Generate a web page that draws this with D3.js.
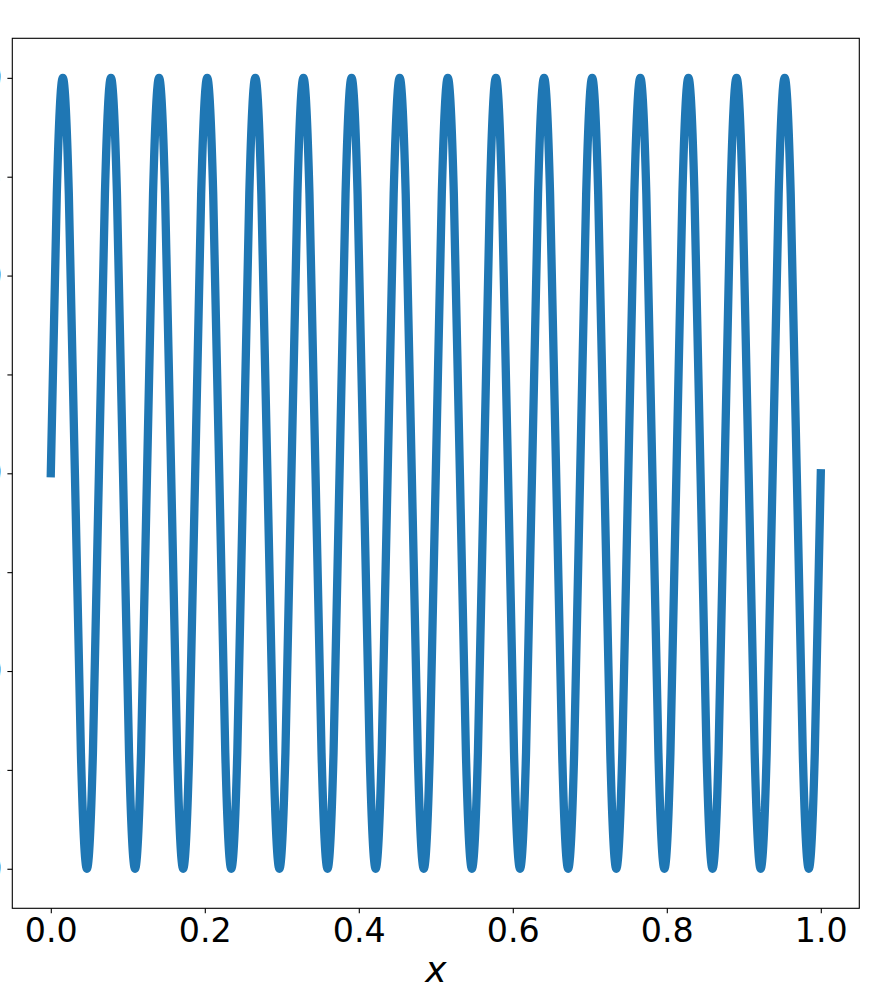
<!DOCTYPE html>
<html>
<head>
<meta charset="utf-8">
<script src="https://cdn.jsdelivr.net/npm/d3@7"></script>
<style>
  html, body { margin: 0; padding: 0; background: #fff; }
  svg { display: block; }
  text { font-family: "DejaVu Sans", sans-serif; }
</style>
</head>
<body>
<svg id="chart" width="887" height="988"></svg>
<script>
// x positions of samples (16 full cycles over [0, 1], eighth-period samples)
const xValues = [
  0.0000, 0.0078, 0.0156, 0.0234, 0.0313, 0.0391, 0.0469, 0.0547,
  0.0625, 0.0703, 0.0781, 0.0859, 0.0938, 0.1016, 0.1094, 0.1172,
  0.1250, 0.1328, 0.1406, 0.1484, 0.1563, 0.1641, 0.1719, 0.1797,
  0.1875, 0.1953, 0.2031, 0.2109, 0.2188, 0.2266, 0.2344, 0.2422,
  0.2500, 0.2578, 0.2656, 0.2734, 0.2813, 0.2891, 0.2969, 0.3047,
  0.3125, 0.3203, 0.3281, 0.3359, 0.3438, 0.3516, 0.3594, 0.3672,
  0.3750, 0.3828, 0.3906, 0.3984, 0.4063, 0.4141, 0.4219, 0.4297,
  0.4375, 0.4453, 0.4531, 0.4609, 0.4688, 0.4766, 0.4844, 0.4922,
  0.5000, 0.5078, 0.5156, 0.5234, 0.5313, 0.5391, 0.5469, 0.5547,
  0.5625, 0.5703, 0.5781, 0.5859, 0.5938, 0.6016, 0.6094, 0.6172,
  0.6250, 0.6328, 0.6406, 0.6484, 0.6563, 0.6641, 0.6719, 0.6797,
  0.6875, 0.6953, 0.7031, 0.7109, 0.7188, 0.7266, 0.7344, 0.7422,
  0.7500, 0.7578, 0.7656, 0.7734, 0.7813, 0.7891, 0.7969, 0.8047,
  0.8125, 0.8203, 0.8281, 0.8359, 0.8438, 0.8516, 0.8594, 0.8672,
  0.8750, 0.8828, 0.8906, 0.8984, 0.9063, 0.9141, 0.9219, 0.9297,
  0.9375, 0.9453, 0.9531, 0.9609, 0.9688, 0.9766, 0.9844, 0.9922,
  1.0000
];
const yValues = [
  0, 0.707, 1, 0.707, 0, -0.707, -1, -0.707,
  0, 0.707, 1, 0.707, 0, -0.707, -1, -0.707,
  0, 0.707, 1, 0.707, 0, -0.707, -1, -0.707,
  0, 0.707, 1, 0.707, 0, -0.707, -1, -0.707,
  0, 0.707, 1, 0.707, 0, -0.707, -1, -0.707,
  0, 0.707, 1, 0.707, 0, -0.707, -1, -0.707,
  0, 0.707, 1, 0.707, 0, -0.707, -1, -0.707,
  0, 0.707, 1, 0.707, 0, -0.707, -1, -0.707,
  0, 0.707, 1, 0.707, 0, -0.707, -1, -0.707,
  0, 0.707, 1, 0.707, 0, -0.707, -1, -0.707,
  0, 0.707, 1, 0.707, 0, -0.707, -1, -0.707,
  0, 0.707, 1, 0.707, 0, -0.707, -1, -0.707,
  0, 0.707, 1, 0.707, 0, -0.707, -1, -0.707,
  0, 0.707, 1, 0.707, 0, -0.707, -1, -0.707,
  0, 0.707, 1, 0.707, 0, -0.707, -1, -0.707,
  0, 0.707, 1, 0.707, 0, -0.707, -1, -0.707,
  0
];
const xTicks = [0.0, 0.2, 0.4, 0.6, 0.8, 1.0];
const xTickLabels = ["0.0", "0.2", "0.4", "0.6", "0.8", "1.0"];
const yTicks = [-1.0, -0.75, -0.5, -0.25, 0.0, 0.25, 0.5, 0.75, 1.0];
const yTickLabels = ["\u22121.00", "\u22120.75", "\u22120.50", "\u22120.25", "0.00", "0.25", "0.50", "0.75", "1.00"];
const xLabel = "x";

(function () {
const svg = d3.select("#chart");
const plotLeft = 12.3, plotRight = 859.3, plotTop = 38.3, plotBottom = 908.3;

const x = d3.scaleLinear().domain([-0.05, 1.05]).range([plotLeft, plotRight]);
const y = d3.scaleLinear().domain([-1.1, 1.1]).range([plotBottom, plotTop]);

const data = xValues.map((v, i) => [v, yValues[i]]);

const line = d3.line()
  .x(d => x(d[0]))
  .y(d => y(d[1]))
  .curve(d3.curveNatural);

svg.append("path")
  .datum(data)
  .attr("d", line)
  .attr("fill", "none")
  .attr("stroke", "#1f77b4")
  .attr("stroke-width", 8.3)
  .attr("stroke-linecap", "square")
  .attr("stroke-linejoin", "round");

// X axis
const xAxis = d3.axisBottom(x)
  .tickValues(xTicks)
  .tickFormat((d, i) => xTickLabels[i])
  .tickSizeInner(4.9)
  .tickSizeOuter(0)
  .tickPadding(4.9);
const gx = svg.append("g").attr("transform", `translate(0,${plotBottom})`).call(xAxis);
gx.select(".domain").remove();
gx.selectAll(".tick line").attr("stroke", "#000").attr("stroke-width", 1.1);
gx.selectAll(".tick text")
  .attr("font-family", "DejaVu Sans, sans-serif")
  .attr("font-size", 33.3)
  .attr("fill", "#000");

// Y axis
const yAxis = d3.axisLeft(y)
  .tickValues(yTicks)
  .tickFormat((d, i) => yTickLabels[i])
  .tickSizeInner(4.9)
  .tickSizeOuter(0)
  .tickPadding(4.9);
const gy = svg.append("g").attr("transform", `translate(${plotLeft},0)`).call(yAxis);
gy.select(".domain").remove();
gy.selectAll(".tick line").attr("stroke", "#000").attr("stroke-width", 1.1);
gy.selectAll(".tick text")
  .attr("font-family", "DejaVu Sans, sans-serif")
  .attr("font-size", 33.3)
  .attr("fill", "#000");

// Frame (spines)
svg.append("rect")
  .attr("x", plotLeft).attr("y", plotTop)
  .attr("width", plotRight - plotLeft).attr("height", plotBottom - plotTop)
  .attr("fill", "none")
  .attr("stroke", "#000")
  .attr("stroke-width", 1.1);

// X label
svg.append("text")
  .attr("x", (plotLeft + plotRight) / 2)
  .attr("y", 982)
  .attr("text-anchor", "middle")
  .attr("font-family", "DejaVu Sans, sans-serif")
  .attr("font-style", "italic")
  .attr("font-size", 36)
  .attr("fill", "#000")
  .text(xLabel);
})();
</script>
</body>
</html>
